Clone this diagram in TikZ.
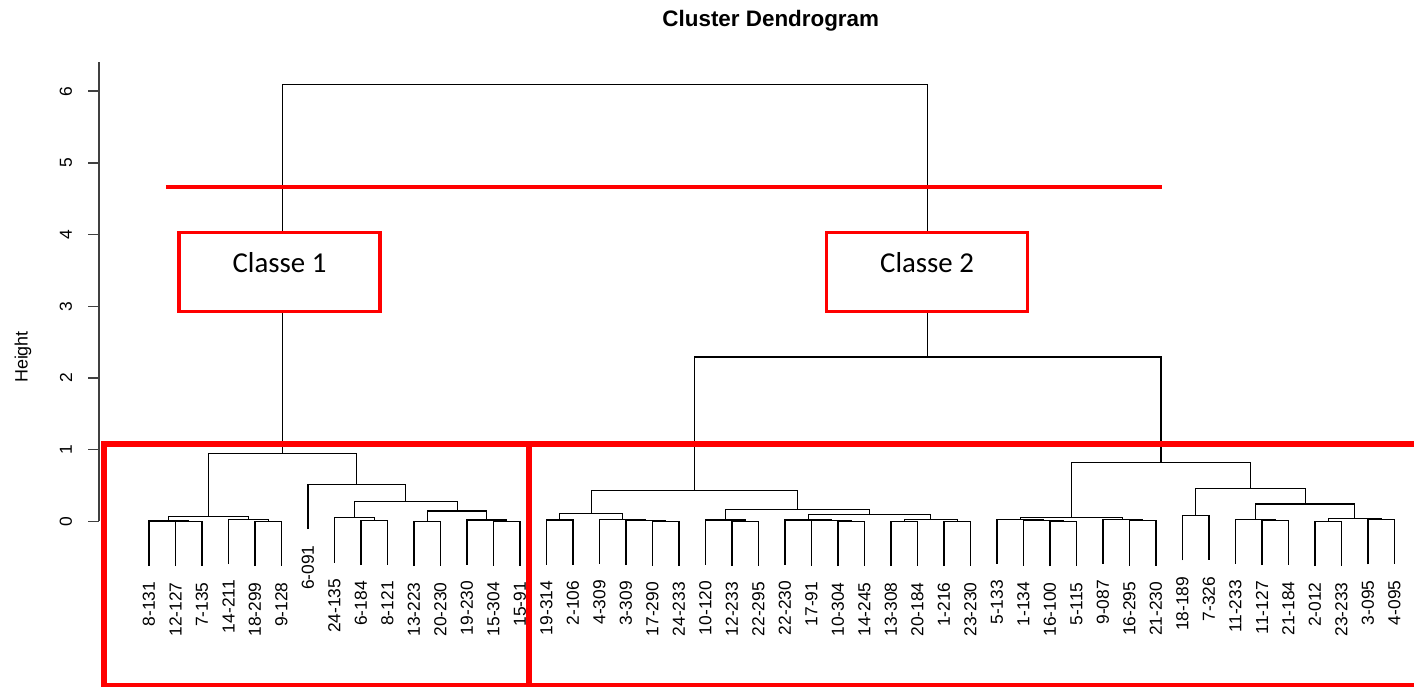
\documentclass[tikz,border=0pt]{standalone}
\usepackage{fontspec}
\setmainfont{Liberation Sans}
\newfontfamily\classfont{Carlito}
\usetikzlibrary{calc}

% join two branches: name, left, right, height
\newcommand{\dmerge}[4]{%
  \coordinate (#1x) at ($(#2)!0.5!(#3)$);
  \coordinate (#1) at (#1x |- 0,#4);
  \draw[branch] (#2) |- (#1) -| (#3);
}

\begin{document}
\begin{tikzpicture}[x=0.53cm, y=1.434cm,
    branch/.style={black, line width=0.6pt},
    axisline/.style={black!75, line width=0.8pt},
    leaflab/.style={font=\fontsize{9.9}{12}\selectfont, rotate=90, anchor=east, inner sep=0pt},
    ticklab/.style={font=\fontsize{9.9}{12}\selectfont, rotate=90, inner sep=0pt},
    cutline/.style={red, line width=2.3pt},
    groupbox/.style={red, line width=3.1pt},
    classbox/.style={draw=red, fill=white, line width=2pt, inner sep=0pt,
      minimum width=114.5pt, text height=22.7pt, text depth=22.1pt, anchor=base,
      font=\classfont\fontsize{16.4}{18}\selectfont}]
    \useasboundingbox (-4.6226,-2.2957) rectangle (48.736,7.272);

    % Title and axis
    \node[font=\bfseries\fontsize{12.75}{15}\selectfont, anchor=base] (title) at (24.464,6.909) {Cluster Dendrogram};
    \node[font=\fontsize{10.2}{12}\selectfont, rotate=90] (ylab) at (-3.755,2.293) {Height};
    \draw[axisline] (-0.887,0) -- (-0.887,6.41);
    \foreach \t in {0,...,6} {
        \draw[axisline] (-0.887,\t) -- (-1.29,\t);
        \node[ticklab] (tk\t) at (-2.132,\t) {\t};
    }

    % Leaves
    \foreach \lab/\ph [count=\i] in {8-131/0.006, 12-127/0, 7-135/0, 14-211/0.03, 18-299/0, 9-128/0,
        6-091/0.517, 24-135/0.05, 6-184/0.015, 8-121/0.015, 13-223/0, 20-230/0, 19-230/0.02,
        15-304/0.005, 15-91/0.005, 19-314/0.02, 2-106/0.02, 4-309/0.033, 3-309/0.015,
        17-290/0.005, 24-233/0.005, 10-120/0.02, 12-233/0.005, 22-295/0.005, 22-230/0.02,
        17-91/0.01, 10-304/0, 14-245/0, 13-308/0, 20-184/0, 1-216/0, 23-230/0, 5-133/0.033,
        1-134/0.01, 16-100/0, 5-115/0, 9-087/0.033, 16-295/0.01, 21-230/0.01, 18-189/0.08,
        7-326/0.08, 11-233/0.033, 11-127/0.015, 21-184/0.015, 2-012/0, 23-233/0,
        3-095/0.025, 4-095/0.025} {
        \coordinate (l\i) at (\i,\ph-0.625);
        \node[leaflab] (t\i) at ([yshift=-9pt]l\i) {\lab};
    }

    % Classe 1
    \dmerge{m1}{l2}{l3}{0}
    \dmerge{m2}{l1}{m1}{0.006}
    \dmerge{m3}{l5}{l6}{0}
    \dmerge{m4}{l4}{m3}{0.03}
    \dmerge{m5}{m2}{m4}{0.066}
    \dmerge{m6}{l9}{l10}{0.015}
    \dmerge{m7}{l8}{m6}{0.05}
    \dmerge{m8}{l11}{l12}{0}
    \dmerge{m9}{l14}{l15}{0.005}
    \dmerge{m10}{l13}{m9}{0.02}
    \dmerge{m11}{m8}{m10}{0.145}
    \dmerge{m12}{m7}{m11}{0.275}
    \dmerge{m13}{l7}{m12}{0.517}
    \dmerge{c1}{m5}{m13}{0.95}

    % Classe 2, left part
    \dmerge{n1}{l16}{l17}{0.02}
    \dmerge{n2}{l20}{l21}{0.005}
    \dmerge{n3}{l19}{n2}{0.015}
    \dmerge{n4}{l18}{n3}{0.033}
    \dmerge{n5}{n1}{n4}{0.113}
    \dmerge{n6}{l23}{l24}{0.005}
    \dmerge{n7}{l22}{n6}{0.02}
    \dmerge{n8}{l27}{l28}{0}
    \dmerge{n9}{l26}{n8}{0.01}
    \dmerge{n10}{l25}{n9}{0.02}
    \dmerge{n11}{l29}{l30}{0}
    \dmerge{n12}{l31}{l32}{0}
    \dmerge{n13}{n11}{n12}{0.033}
    \dmerge{n14}{n10}{n13}{0.094}
    \dmerge{n15}{n7}{n14}{0.163}
    \dmerge{n16}{n5}{n15}{0.428}

    % Classe 2, right part
    \dmerge{p1}{l35}{l36}{0}
    \dmerge{p2}{l34}{p1}{0.01}
    \dmerge{p3}{l33}{p2}{0.033}
    \dmerge{p4}{l38}{l39}{0.01}
    \dmerge{p5}{l37}{p4}{0.033}
    \dmerge{p6}{p3}{p5}{0.052}
    \dmerge{p7}{l40}{l41}{0.08}
    \dmerge{p8}{l43}{l44}{0.015}
    \dmerge{p9}{l42}{p8}{0.033}
    \dmerge{p10}{l45}{l46}{0}
    \dmerge{p11}{l47}{l48}{0.025}
    \dmerge{p12}{p10}{p11}{0.047}
    \dmerge{p13}{p9}{p12}{0.243}
    \dmerge{p14}{p7}{p13}{0.461}
    \dmerge{p15}{p6}{p14}{0.824}
    \dmerge{c2}{n16}{p15}{2.293}
    \dmerge{root}{c1}{c2}{6.09}

    % Cut and classes
    \coordinate (cutL) at (1.6415,4.664);
    \coordinate (cutR) at (39.215,4.664);
    \draw[cutline] (cutL) -- (cutR);
    \node[classbox] (cls1) at (5.925,3.47) {Classe 1};
    \node[classbox] (cls2) at (30.36,3.47) {Classe 2};
    \draw[groupbox] (-0.6906,1.0823) rectangle (15.332,-2.2957);
    \draw[groupbox] (15.332,1.0823) rectangle (50,-2.2957);
\end{tikzpicture}
\end{document}
